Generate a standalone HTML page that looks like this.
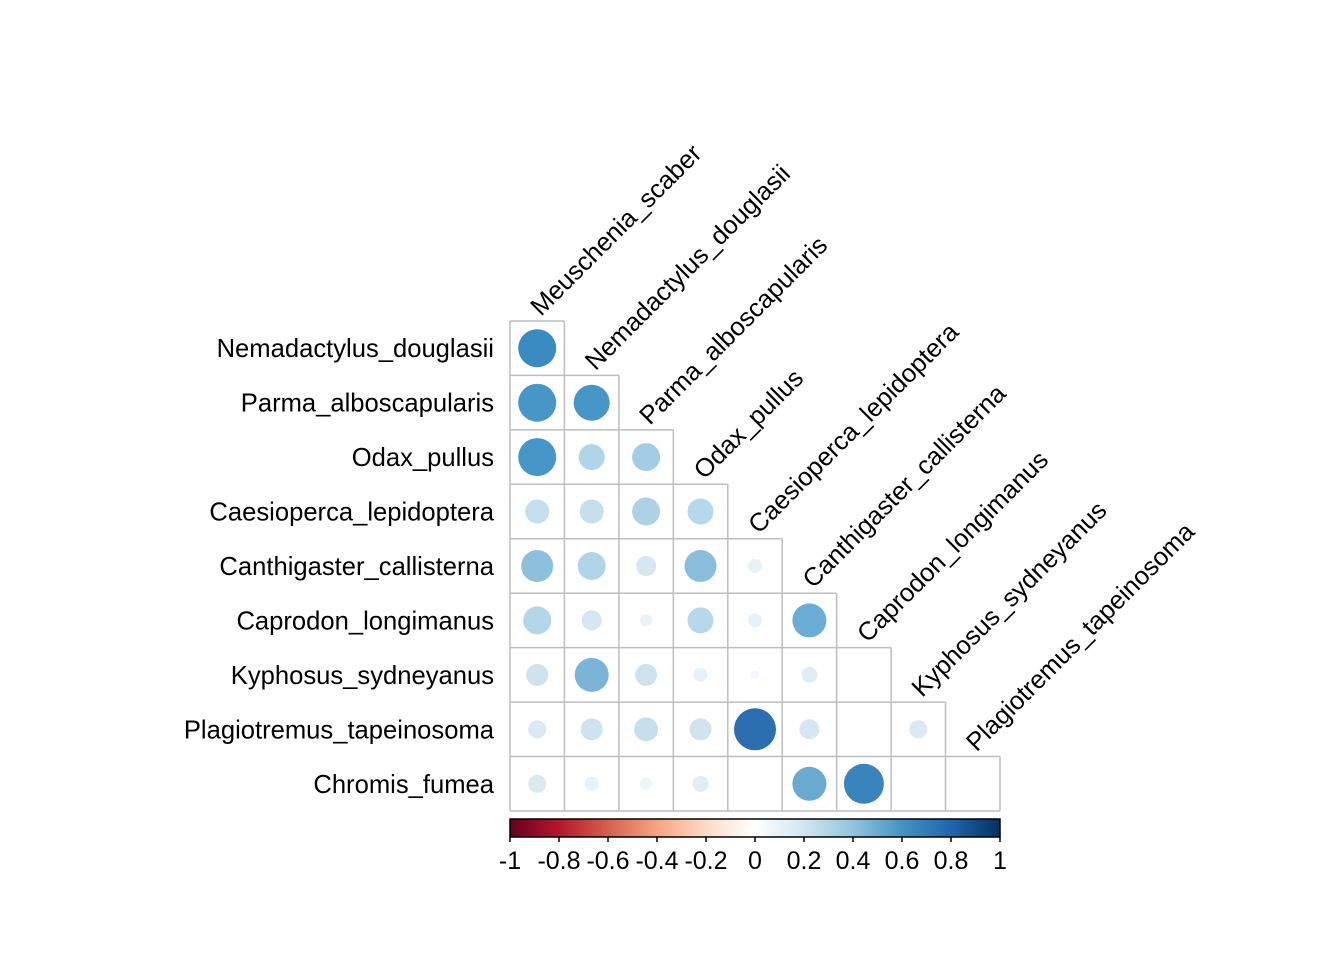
<!DOCTYPE html>
<html><head><meta charset="utf-8"><style>html,body{margin:0;padding:0;background:#fff}svg{display:block}</style></head>
<body>
<svg width="1344" height="960" xmlns="http://www.w3.org/2000/svg" font-family="Liberation Sans, Arial, sans-serif">
<defs>
<linearGradient id="g" x1="0" x2="1" y1="0" y2="0">
<stop offset="0" stop-color="#67001f"/><stop offset="0.1" stop-color="#b2182b"/><stop offset="0.2" stop-color="#d6604d"/><stop offset="0.3" stop-color="#f4a582"/><stop offset="0.4" stop-color="#fddbc7"/><stop offset="0.5" stop-color="#ffffff"/><stop offset="0.6" stop-color="#d1e5f0"/><stop offset="0.7" stop-color="#92c5de"/><stop offset="0.8" stop-color="#4393c3"/><stop offset="0.9" stop-color="#2166ac"/><stop offset="1" stop-color="#053061"/>
</linearGradient>
</defs>
<g stroke="#bebebe" stroke-width="1.5" fill="none">
<path d="M510 321H564.4M510 375.4H618.9M510 429.9H673.3M510 484.3H727.8M510 538.8H782.2M510 593.2H836.6M510 647.6H891.1M510 702.1H945.5M510 756.5H1000M510 811H1000"/>
<path d="M510 321V811M564.4 321V811M618.9 375.4V811M673.3 429.9V811M727.8 484.3V811M782.2 538.8V811M836.6 593.2V811M891.1 647.6V811M945.5 702.1V811M1000 756.5V811"/>
</g>
<g>
<circle cx="537.2" cy="348.2" r="19" fill="#3a8bc2"/>
<circle cx="537.2" cy="402.7" r="19" fill="#4796c8"/><circle cx="591.7" cy="402.7" r="18" fill="#4796c8"/>
<circle cx="537.2" cy="457.1" r="19" fill="#4796c8"/><circle cx="591.7" cy="457.1" r="13" fill="#b1d5e8"/><circle cx="646.1" cy="457.1" r="14" fill="#a3cde4"/>
<circle cx="537.2" cy="511.5" r="12" fill="#c6dfee"/><circle cx="591.7" cy="511.5" r="12" fill="#c6dfee"/><circle cx="646.1" cy="511.5" r="14" fill="#add2e6"/><circle cx="700.5" cy="511.5" r="13" fill="#b7d7ea"/>
<circle cx="537.2" cy="566" r="16" fill="#8cc0dd"/><circle cx="591.7" cy="566" r="14" fill="#b0d4e8"/><circle cx="646.1" cy="566" r="10" fill="#d6e7f1"/><circle cx="700.5" cy="566" r="16" fill="#89bedc"/><circle cx="755" cy="566" r="7" fill="#e8f1f7"/>
<circle cx="537.2" cy="620.4" r="14" fill="#b4d6e9"/><circle cx="591.7" cy="620.4" r="10" fill="#d6e7f1"/><circle cx="646.1" cy="620.4" r="6" fill="#eaf2f8"/><circle cx="700.5" cy="620.4" r="13" fill="#b7d7ea"/><circle cx="755" cy="620.4" r="7" fill="#e8f1f7"/><circle cx="809.4" cy="620.4" r="17" fill="#6aaed6"/>
<circle cx="537.2" cy="674.9" r="11" fill="#cfe3ef"/><circle cx="591.7" cy="674.9" r="17" fill="#7ab5d8"/><circle cx="646.1" cy="674.9" r="11" fill="#cfe3ef"/><circle cx="700.5" cy="674.9" r="7" fill="#e8f1f7"/><circle cx="755" cy="674.9" r="4" fill="#f0f6fa"/><circle cx="809.4" cy="674.9" r="8" fill="#e0edf5"/>
<circle cx="537.2" cy="729.3" r="9" fill="#dbe9f3"/><circle cx="591.7" cy="729.3" r="11" fill="#cfe3ef"/><circle cx="646.1" cy="729.3" r="12" fill="#c6dfee"/><circle cx="700.5" cy="729.3" r="11" fill="#d0e3ef"/><circle cx="755" cy="729.3" r="21" fill="#2b6fb0"/><circle cx="809.4" cy="729.3" r="10" fill="#d6e7f1"/><circle cx="918.3" cy="729.3" r="9" fill="#dbe9f3"/>
<circle cx="537.2" cy="783.8" r="9" fill="#dbe9f3"/><circle cx="591.7" cy="783.8" r="7" fill="#e8f1f7"/><circle cx="646.1" cy="783.8" r="6" fill="#eef4f9"/><circle cx="700.5" cy="783.8" r="8" fill="#e0edf5"/><circle cx="809.4" cy="783.8" r="17" fill="#6aaad0"/><circle cx="863.9" cy="783.8" r="20" fill="#3a84bd"/>
</g>
<g font-size="25.6" fill="#000" text-anchor="end">
<text x="494" y="357.2">Nemadactylus_douglasii</text>
<text x="494" y="411.7">Parma_alboscapularis</text>
<text x="494" y="466.1">Odax_pullus</text>
<text x="494" y="520.5">Caesioperca_lepidoptera</text>
<text x="494" y="575">Canthigaster_callisterna</text>
<text x="494" y="629.4">Caprodon_longimanus</text>
<text x="494" y="683.9">Kyphosus_sydneyanus</text>
<text x="494" y="738.3">Plagiotremus_tapeinosoma</text>
<text x="494" y="792.8">Chromis_fumea</text>
</g>
<g font-size="25.6" fill="#000">
<text x="541" y="317" transform="rotate(-45 541 317)">Meuschenia_scaber</text>
<text x="595.5" y="371.4" transform="rotate(-45 595.5 371.4)">Nemadactylus_douglasii</text>
<text x="649.9" y="425.9" transform="rotate(-45 649.9 425.9)">Parma_alboscapularis</text>
<text x="704.3" y="480.3" transform="rotate(-45 704.3 480.3)">Odax_pullus</text>
<text x="758.8" y="534.8" transform="rotate(-45 758.8 534.8)">Caesioperca_lepidoptera</text>
<text x="813.2" y="589.2" transform="rotate(-45 813.2 589.2)">Canthigaster_callisterna</text>
<text x="867.7" y="643.6" transform="rotate(-45 867.7 643.6)">Caprodon_longimanus</text>
<text x="922.1" y="698.1" transform="rotate(-45 922.1 698.1)">Kyphosus_sydneyanus</text>
<text x="976.6" y="752.5" transform="rotate(-45 976.6 752.5)">Plagiotremus_tapeinosoma</text>
</g>
<rect x="510" y="819" width="490" height="18" fill="url(#g)" stroke="#000" stroke-width="1.5"/>
<path d="M510 837V842M559 837V842M608 837V842M657 837V842M706 837V842M755 837V842M804 837V842M853 837V842M902 837V842M951 837V842M1000 837V842" stroke="#000" stroke-width="1.5"/>
<g font-size="25" text-anchor="middle" fill="#000">
<text x="510" y="869">-1</text><text x="559" y="869">-0.8</text><text x="608" y="869">-0.6</text><text x="657" y="869">-0.4</text><text x="706" y="869">-0.2</text><text x="755" y="869">0</text><text x="804" y="869">0.2</text><text x="853" y="869">0.4</text><text x="902" y="869">0.6</text><text x="951" y="869">0.8</text><text x="1000" y="869">1</text>
</g>
</svg>
</body></html>
